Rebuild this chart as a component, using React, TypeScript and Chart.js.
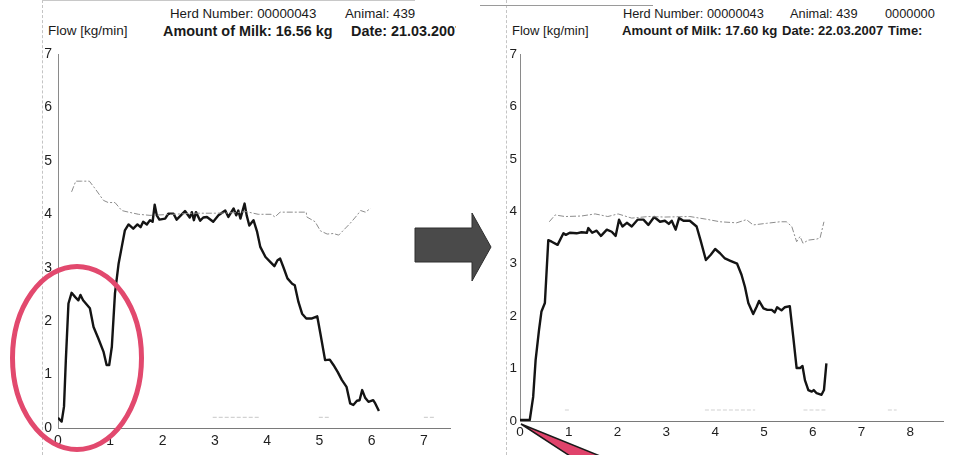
import React, { useEffect, useRef } from "react";
import { Chart, registerables } from "chart.js";
Chart.register(...registerables);

// ---------- Left milking: 21.03.2007 ----------
const leftTime = [0.00,0.07,0.115,0.15,0.20,0.26,0.33,0.39,0.43,0.48,0.61,0.68,0.77,0.87,0.93,0.98,1.03,1.09,1.16,1.22,1.28,1.35,1.44,1.52,1.58,1.63,1.70,1.76,1.81,1.85,1.89,1.94,2.05,2.11,2.21,2.27,2.35,2.43,2.52,2.56,2.60,2.64,2.72,2.78,2.85,2.97,3.07,3.20,3.26,3.36,3.41,3.45,3.49,3.57,3.61,3.66,3.74,3.81,3.87,3.97,4.06,4.14,4.20,4.25,4.32,4.39,4.48,4.53,4.60,4.67,4.75,4.86,4.96,5.02,5.11,5.20,5.27,5.35,5.43,5.52,5.59,5.65,5.72,5.77,5.82,5.88,5.94,6.03,6.07,6.14];
const leftFlow = [0.19,0.12,0.40,1.27,2.33,2.53,2.45,2.39,2.49,2.39,2.24,1.89,1.68,1.43,1.18,1.18,1.52,2.52,3.08,3.39,3.70,3.81,3.73,3.81,3.76,3.86,3.81,3.89,3.86,4.18,3.98,3.90,3.92,4.01,4.01,3.90,3.98,4.06,3.94,4.04,3.89,4.04,3.88,3.94,3.95,3.86,3.98,4.07,3.95,4.11,3.98,4.07,3.92,4.20,3.98,3.79,3.89,3.67,3.39,3.20,3.11,3.03,3.14,3.17,2.99,2.80,2.70,2.67,2.36,2.14,2.05,2.05,2.09,1.77,1.27,1.28,1.18,1.05,0.90,0.77,0.46,0.43,0.51,0.52,0.71,0.56,0.49,0.52,0.46,0.32];
const leftRefTime = [0.26,0.34,0.45,0.60,0.71,0.87,0.96,1.09,1.22,1.35,1.54,1.76,2.20,2.60,3.00,3.40,3.60,3.83,4.08,4.15,4.25,4.75,4.76,4.92,5.02,5.15,5.27,5.37,5.47,5.59,5.72,5.79,5.88,5.98];
const leftRef = [4.42,4.62,4.62,4.62,4.48,4.26,4.22,4.22,4.07,4.04,4.00,3.98,4.00,4.02,4.02,4.03,4.05,4.00,4.00,3.95,4.04,4.04,3.95,3.86,3.69,3.63,3.64,3.61,3.71,3.83,3.98,4.07,4.04,4.11];
const leftLowTime = [2.96,3.86,3.90,4.99,5.18,5.20,7.00,7.20];
const leftLow = [0.2,0.2,null,0.2,0.2,null,0.2,0.2];

// ---------- Right milking: 22.03.2007 ----------
const rightTime = [0.00,0.20,0.27,0.32,0.39,0.44,0.51,0.58,0.65,0.77,0.89,0.94,1.02,1.16,1.26,1.37,1.40,1.48,1.57,1.66,1.78,1.88,1.96,2.03,2.10,2.19,2.29,2.41,2.53,2.63,2.75,2.87,2.97,3.05,3.11,3.19,3.26,3.35,3.48,3.62,3.70,3.81,3.91,4.00,4.10,4.20,4.30,4.45,4.54,4.61,4.68,4.78,4.85,4.90,4.99,5.07,5.16,5.22,5.27,5.36,5.43,5.53,5.60,5.67,5.74,5.79,5.84,5.91,5.98,6.02,6.08,6.18,6.23,6.28];
const rightFlow = [0.02,0.02,0.46,1.16,1.74,2.09,2.25,3.45,3.42,3.36,3.58,3.55,3.59,3.58,3.60,3.59,3.68,3.59,3.63,3.53,3.65,3.61,3.53,3.84,3.71,3.78,3.71,3.84,3.84,3.74,3.89,3.80,3.82,3.76,3.82,3.65,3.87,3.82,3.82,3.71,3.45,3.07,3.17,3.28,3.20,3.10,3.06,3.00,2.79,2.56,2.25,2.04,2.18,2.29,2.15,2.12,2.12,2.07,2.17,2.11,2.17,2.19,1.61,1.01,1.01,1.05,0.78,0.59,0.56,0.59,0.53,0.50,0.59,1.10];
const rightRefTime = [0.60,0.72,0.92,1.26,1.54,1.80,2.01,2.29,2.63,2.97,3.48,3.81,4.10,4.44,4.64,4.78,5.05,5.33,5.46,5.57,5.67,5.74,5.80,5.91,6.08,6.15,6.23];
const rightRef = [3.80,3.93,3.90,3.91,3.95,3.90,3.95,3.87,3.90,3.89,3.90,3.85,3.80,3.78,3.84,3.74,3.77,3.80,3.80,3.71,3.42,3.52,3.39,3.45,3.47,3.49,3.80];
const rightLowTime = [0.92,1.02,1.05,3.79,4.82,4.85,5.81,6.26,6.30,7.54,7.72];
const rightLow = [0.21,0.21,null,0.21,0.21,null,0.21,0.21,null,0.21,0.21];

const yTicks = [0, 1, 2, 3, 4, 5, 6, 7];

const FONT = "'Liberation Sans', Arial, sans-serif";

function pts(xs: number[], ys: (number | null)[]) {
  return xs.map((x, i) => ({ x, y: ys[i] }));
}

type Cfg = {
  time: number[]; flow: number[]; refTime: number[]; ref: number[];
  lowTime: number[]; low: (number | null)[];
  xMax: number; yAxisW: number; xAxisH: number; padTop: number; padRight: number;
  xTickPad: number; yTickPad: number; tickSize: number;
};

function makeConfig(c: Cfg): any {
  return {
    type: "line",
    data: {
      datasets: [
        {
          data: pts(c.lowTime, c.low),
          borderColor: "#d2d2d2",
          borderWidth: 1.2,
          borderDash: [4, 2],
          pointRadius: 0,
          spanGaps: false,
        },
        {
          data: pts(c.refTime, c.ref),
          borderColor: "#8c8c8c",
          borderWidth: 1,
          borderDash: [6, 2, 2, 2],
          pointRadius: 0,
        },
        {
          data: pts(c.time, c.flow),
          borderColor: "#141414",
          borderWidth: 2.4,
          pointRadius: 0,
          borderJoinStyle: "round",
        },
      ],
    },
    options: {
      animation: false,
      responsive: true,
      maintainAspectRatio: false,
      layout: { padding: { top: c.padTop, right: c.padRight, left: 0, bottom: 0 } },
      plugins: { legend: { display: false }, tooltip: { enabled: false }, title: { display: false } },
      scales: {
        x: {
          type: "linear",
          min: 0,
          max: c.xMax,
          afterFit: (s: any) => { s.height = c.xAxisH; },
          grid: { display: false, drawTicks: false },
          border: { display: true, color: "#7a7a7a", width: 1, dash: [5, 2] },
          ticks: {
            stepSize: 1,
            includeBounds: false,
            padding: c.xTickPad,
            color: "#1e1e1e",
            font: { family: FONT, size: c.tickSize },
            maxRotation: 0,
          },
        },
        y: {
          type: "linear",
          min: 0,
          max: 7,
          afterFit: (s: any) => { s.width = c.yAxisW; },
          afterBuildTicks: (s: any) => { s.ticks = yTicks.map((v) => ({ value: v })); },
          grid: { display: false, drawTicks: false },
          border: { display: true, color: "#8a8a8a", width: 1, dash: [2, 2] },
          ticks: {
            padding: c.yTickPad,
            color: "#1e1e1e",
            font: { family: FONT, size: c.tickSize },
          },
        },
      },
    },
  };
}

function FlowChart({ cfg, style }: { cfg: Cfg; style: React.CSSProperties }) {
  const ref = useRef<HTMLCanvasElement>(null);
  useEffect(() => {
    const chart = new Chart(ref.current!, makeConfig(cfg));
    return () => chart.destroy();
  }, []);
  return (
    <div style={{ position: "absolute", ...style }}>
      <canvas ref={ref} />
    </div>
  );
}

const txt = (left: number, top: number, size: number, bold = false): React.CSSProperties => ({
  position: "absolute", left, top, fontFamily: FONT, fontSize: size,
  fontWeight: bold ? 700 : 400, color: "#1a1a1a", whiteSpace: "nowrap", lineHeight: "16px",
});

export default function App() {
  return (
    <div style={{ position: "absolute", left: 0, top: 0, width: 962, height: 455, background: "#fff", overflow: "hidden" }}>
      {/* Left panel (clipped scan) */}
      <div style={{ position: "absolute", left: 0, top: 0, width: 456, height: 455, overflow: "hidden" }}>
        <div style={{ position: "absolute", left: 42, top: 0, width: 0, height: 455, borderLeft: "1px dashed #c4c4c4" }} />
        <div style={{ position: "absolute", left: 42, top: 0, width: 373, height: 0, borderTop: "1px solid #c8c8c8" }} />
        <div style={txt(170, 6, 13.3)}>Herd Number: 00000043</div>
        <div style={txt(345, 6, 13.3)}>Animal: 439</div>
        <div style={txt(48, 23, 13.5)}>Flow [kg/min]</div>
        <div style={txt(163, 23, 14.4, true)}>Amount of Milk: 16.56 kg</div>
        <div style={txt(351, 23, 14.4, true)}>Date: 21.03.2007</div>
        <FlowChart
          style={{ left: 0, top: 0, width: 456, height: 455 }}
          cfg={{
            time: leftTime, flow: leftFlow, refTime: leftRefTime, ref: leftRef,
            lowTime: leftLowTime, low: leftLow,
            xMax: 7.5, yAxisW: 58, xAxisH: 27, padTop: 54, padRight: 6,
            xTickPad: 5, yTickPad: 6, tickSize: 14,
          }}
        />
      </div>

      {/* Right panel */}
      <div style={{ position: "absolute", left: 480, top: 0, width: 482, height: 455, overflow: "hidden" }}>
        <div style={{ position: "absolute", left: 26, top: 0, width: 0, height: 455, borderLeft: "1px dashed #c4c4c4" }} />
        <div style={{ position: "absolute", left: 0, top: 5, width: 173, height: 0, borderTop: "1px solid #9a9a9a" }} />
        <div style={txt(143, 6, 12.8)}>Herd Number: 00000043</div>
        <div style={txt(310, 6, 12.8)}>Animal: 439</div>
        <div style={txt(405, 6, 12.8)}>0000000</div>
        <div style={txt(32, 23, 13)}>Flow [kg/min]</div>
        <div style={txt(142, 23, 13.2, true)}>Amount of Milk: 17.60 kg</div>
        <div style={txt(302, 23, 13, true)}>Date: 22.03.2007</div>
        <div style={txt(408, 23, 13, true)}>Time:</div>
        <FlowChart
          style={{ left: 0, top: 0, width: 482, height: 455 }}
          cfg={{
            time: rightTime, flow: rightFlow, refTime: rightRefTime, ref: rightRef,
            lowTime: rightLowTime, low: rightLow,
            xMax: 8.67, yAxisW: 40, xAxisH: 34, padTop: 54, padRight: 19,
            xTickPad: 3, yTickPad: 3, tickSize: 13.5,
          }}
        />
      </div>

      {/* Annotations: arrow, circle, pointer wedge */}
      <svg width={962} height={455} style={{ position: "absolute", left: 0, top: 0, pointerEvents: "none" }}>
        <polygon
          points="415,228 472,228 472,213 491,247 472,281 472,262 415,262"
          fill="#4a4a4a"
          stroke="#2e2e2e"
          strokeWidth={1}
        />
        <ellipse cx={77} cy={358} rx={64.5} ry={91.5} fill="none" stroke="#e2496e" strokeWidth={5} />
        <polygon points="521,424 600,456 570,456" fill="#e0436b" stroke="#1a1a1a" strokeWidth={1.5} />
      </svg>
    </div>
  );
}
